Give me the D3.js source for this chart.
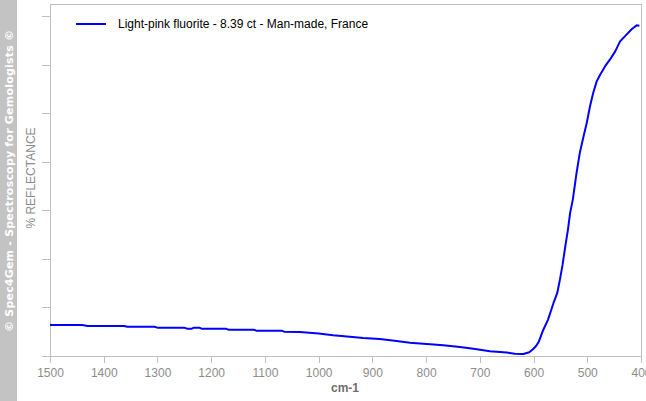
<!DOCTYPE html>
<html>
<head>
<meta charset="utf-8">
<script src="https://cdn.jsdelivr.net/npm/d3@7"></script>
<style>
  body { margin: 0; background: #fff; }
  svg { display: block; font-family: "Liberation Sans", Arial, sans-serif; }
</style>
</head>
<body>
<div id="chart"></div>
<script>
// spectrum (wavenumber cm-1, % reflectance)
var wavenumbers = [1500, 1440, 1430, 1362, 1356, 1306, 1300, 1250, 1245, 1236, 1232, 1222, 1218, 1173,
    1168, 1121, 1116, 1069, 1064, 1035, 1000, 973, 942, 917, 886, 855, 830, 799, 768, 737, 712, 681,
    650, 635, 619, 608, 600.5, 595, 590, 582, 573, 563, 556, 551, 546, 541, 536, 532, 527, 520, 514,
    507, 501, 495, 489, 482.5, 476, 467, 458, 448, 439, 427, 417, 408, 403];
var reflectance = [6.39, 6.39, 6.19, 6.19, 6.04, 6.04, 5.84, 5.84, 5.63, 5.63, 5.84, 5.84, 5.63, 5.63,
    5.42, 5.42, 5.22, 5.22, 5.01, 4.95, 4.65, 4.27, 3.98, 3.71, 3.51, 3.09, 2.74, 2.47, 2.21, 1.86, 1.51, 1.0,
    0.72, 0.45, 0.43, 0.76, 1.45, 2.1, 3.0, 5.36, 7.5, 10.87, 12.93, 15.67, 18.76, 22.54, 25.98, 29.42, 32.16, 37.67, 41.79,
    45.22, 47.98, 51.40, 54.16, 56.56, 57.94, 59.65, 61.03, 62.74, 64.80, 66.19, 67.36, 68.10, 68.04];
var xTicks = [1500, 1400, 1300, 1200, 1100, 1000, 900, 800, 700, 600, 500, 400];
var yTicks = [0, 10, 20, 30, 40, 50, 60, 70];
var seriesName = "Light-pink fluorite - 8.39 ct - Man-made, France";

var width = 646, height = 401;
var margin = { top: 4, right: 5, bottom: 45, left: 50 };

var svg = d3.select("#chart").append("svg")
    .attr("width", width)
    .attr("height", height);

// copyright band on the left
svg.append("rect")
    .attr("x", 0).attr("y", 0)
    .attr("width", 17).attr("height", height)
    .style("fill", "#c3c3c3");
svg.append("text")
    .attr("transform", "translate(13,181) rotate(-90)")
    .attr("text-anchor", "middle")
    .attr("textLength", 302)
    .style("font-family", "'DejaVu Sans', Verdana, sans-serif")
    .style("font-size", "11px")
    .style("font-weight", "bold")
    .style("fill", "#fff")
    .text("\u00a9 Spec4Gem - Spectroscopy for Gemologists \u00a9");

var x = d3.scaleLinear()
    .domain([1500, 400])
    .range([margin.left, width - margin.right]);

var y = d3.scaleLinear()
    .domain([0, 72.5])
    .range([height - margin.bottom, margin.top]);

var axisColor = "#c0c0c0";

// frame: top and right
svg.append("path")
    .attr("d", "M" + x(1500) + "," + y(72.5) + "H" + x(400) + "V" + y(0))
    .style("fill", "none")
    .style("stroke", axisColor)
    .style("shape-rendering", "crispEdges");

var gx = svg.append("g")
    .attr("transform", "translate(0," + y(0) + ")")
    .call(d3.axisBottom(x).tickValues(xTicks).tickFormat(d3.format("d"))
        .tickSize(7).tickSizeOuter(0).tickPadding(5));

var gy = svg.append("g")
    .attr("transform", "translate(" + x(1500) + ",0)")
    .call(d3.axisLeft(y).tickValues(yTicks).tickSize(8).tickSizeOuter(0).tickFormat(""));

[gx, gy].forEach(function(g) {
    g.selectAll("path, line")
        .style("stroke", axisColor)
        .style("shape-rendering", "crispEdges");
    g.selectAll("text")
        .style("font-family", "'Liberation Sans', Arial, sans-serif")
        .style("font-size", "12px")
        .style("fill", "#8c8c8c");
});
gy.select(".domain").attr("d", "M0," + y(72.5) + "V" + y(0));

// axis titles
svg.append("text")
    .attr("x", 345).attr("y", 392)
    .attr("text-anchor", "middle")
    .style("font-size", "12px")
    .style("font-weight", "bold")
    .style("fill", "#6e6e6e")
    .text("cm-1");

svg.append("text")
    .attr("transform", "translate(35,178) rotate(-90)")
    .attr("text-anchor", "middle")
    .style("font-size", "12px")
    .style("fill", "#8c8c8c")
    .text("% REFLECTANCE");

// spectrum
var points = wavenumbers.map(function(w, i) { return [w, reflectance[i]]; });
var line = d3.line()
    .x(function(d) { return x(d[0]); })
    .y(function(d) { return y(d[1]); });

svg.append("path")
    .datum(points)
    .attr("d", line)
    .style("fill", "none")
    .style("stroke", "#0000ff")
    .style("stroke-width", 2)
    .style("stroke-linejoin", "round");

// legend
var legend = svg.append("g").attr("transform", "translate(76,24)");
legend.append("line")
    .attr("x1", 0).attr("x2", 30)
    .style("stroke", "#0000ff")
    .style("stroke-width", 2);
legend.append("text")
    .attr("x", 42).attr("y", 4)
    .style("font-size", "12px")
    .style("fill", "#000")
    .text(seriesName);
</script>
</body>
</html>
